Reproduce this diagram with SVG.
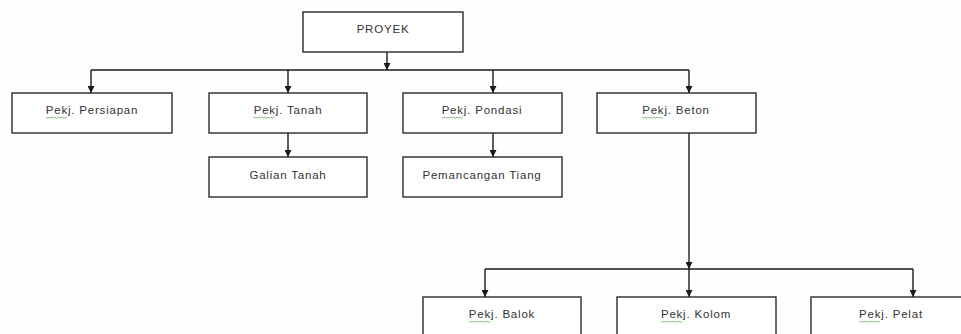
<svg xmlns="http://www.w3.org/2000/svg" width="961" height="334" viewBox="0 0 961 334">
<defs>
<marker id="ah" viewBox="0 0 10 10" refX="10" refY="5" markerWidth="7" markerHeight="7" orient="auto" markerUnits="userSpaceOnUse">
<path d="M0,0 L10,5 L0,10 Z" fill="#1a1a1a"/>
</marker>
<path id="sq" d="M0,0 l1.5,1.2 l1.5,-1.2 l1.5,1.2 l1.5,-1.2 l1.5,1.2 l1.5,-1.2 l1.5,1.2 l1.5,-1.2 l1.5,1.2 l1.5,-1.2 l1.5,1.2 l1.5,-1.2 l1.5,1.2 l1.5,-1.2" fill="none" stroke="#6aaa60" stroke-width="0.8"/>
<style>
.box{fill:#ffffff;stroke:#2a2a2a;stroke-width:1.4}
.lbl{font-family:"Liberation Sans","DejaVu Sans",sans-serif;font-size:11.5px;letter-spacing:0.8px;fill:#333333;text-anchor:middle}
.ln{fill:none;stroke:#1a1a1a;stroke-width:1.4}
.arr{fill:none;stroke:#1a1a1a;stroke-width:1.4;marker-end:url(#ah)}
</style>
</defs>
<rect width="961" height="334" fill="#fefefd"/>
<g id="connectors">
<path class="arr" d="M387,52 V70"/>
<path class="ln" d="M91,70 H689"/>
<path class="arr" d="M91,70 V93"/>
<path class="arr" d="M288,70 V93"/>
<path class="arr" d="M493,70 V93"/>
<path class="arr" d="M689,70 V93"/>
<path class="arr" d="M288,133 V157"/>
<path class="arr" d="M493,133 V157"/>
<path class="arr" d="M689,133 V269"/>
<path class="ln" d="M485,269 H913"/>
<path class="arr" d="M485,269 V297"/>
<path class="arr" d="M689,269 V297"/>
<path class="arr" d="M913,269 V297"/>
</g>
<g id="proyek"><rect class="box" x="303" y="12" width="160" height="40"/><text class="lbl" x="383" y="33">PROYEK</text></g>
<g id="persiapan"><rect class="box" x="12" y="93" width="160" height="40"/><text class="lbl" x="92" y="114">Pekj. Persiapan</text><use href="#sq" x="46" y="117"/></g>
<g id="tanah"><rect class="box" x="209" y="93" width="158" height="40"/><text class="lbl" x="288" y="114">Pekj. Tanah</text><use href="#sq" x="253" y="117"/></g>
<g id="pondasi"><rect class="box" x="403" y="93" width="159" height="40"/><text class="lbl" x="482" y="114">Pekj. Pondasi</text><use href="#sq" x="442" y="117"/></g>
<g id="beton"><rect class="box" x="597" y="93" width="159" height="40"/><text class="lbl" x="676" y="114">Pekj. Beton</text><use href="#sq" x="642" y="117"/></g>
<g id="galian"><rect class="box" x="209" y="157" width="158" height="40"/><text class="lbl" x="288" y="179">Galian Tanah</text></g>
<g id="pemancangan"><rect class="box" x="403" y="157" width="159" height="40"/><text class="lbl" x="482" y="179">Pemancangan Tiang</text></g>
<g id="balok"><rect class="box" x="423" y="297" width="158" height="45"/><text class="lbl" x="502" y="318">Pekj. Balok</text><use href="#sq" x="469" y="321"/></g>
<g id="kolom"><rect class="box" x="617" y="297" width="159" height="45"/><text class="lbl" x="696" y="318">Pekj. Kolom</text><use href="#sq" x="661" y="321"/></g>
<g id="pelat"><rect class="box" x="811" y="297" width="160" height="45"/><text class="lbl" x="891" y="318">Pekj. Pelat</text><use href="#sq" x="859" y="321"/></g>
</svg>
